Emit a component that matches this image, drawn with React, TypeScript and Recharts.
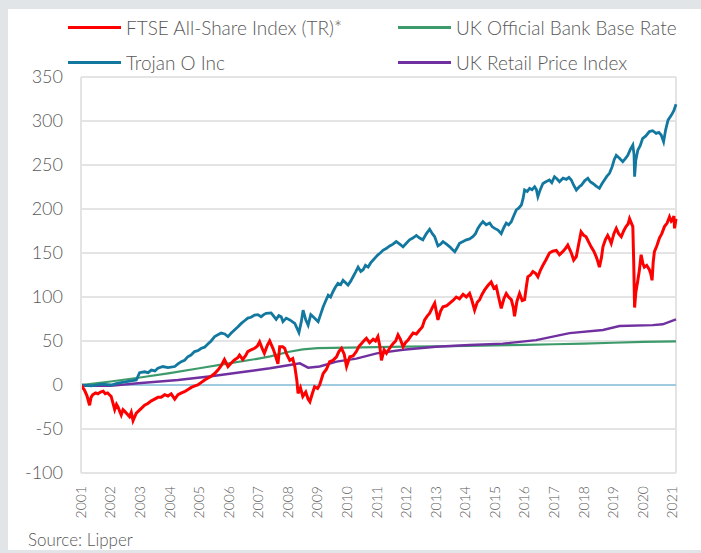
import React from 'react';
import { LineChart, Line, XAxis, YAxis, CartesianGrid, ReferenceLine } from 'recharts';

// [year, cumulative % return]
const ftse: [number, number][] = [
  [2001.0, 0], [2001.06, -3], [2001.12, -6], [2001.2, -12], [2001.29, -23], [2001.34, -14], [2001.4, -11], [2001.5, -9], [2001.57, -10], [2001.66, -8], [2001.75, -7], [2001.82, -10], [2001.9, -9],
  [2002.02, -13], [2002.14, -28], [2002.2, -22], [2002.25, -25], [2002.31, -30], [2002.36, -34], [2002.42, -28], [2002.48, -30], [2002.56, -33], [2002.64, -36], [2002.7, -31], [2002.76, -40.5],
  [2002.87, -32], [2003.04, -26.5], [2003.15, -23], [2003.26, -21], [2003.38, -18], [2003.49, -16], [2003.6, -14],
  [2003.71, -14], [2003.83, -11], [2003.94, -12.5], [2004.05, -10], [2004.17, -16], [2004.28, -11], [2004.4, -9],
  [2004.5, -7.6], [2004.62, -5], [2004.73, -2.7], [2004.85, -1], [2004.95, 0], [2005.07, 3], [2005.18, 5.7],
  [2005.3, 8], [2005.4, 10], [2005.52, 13], [2005.63, 17], [2005.74, 22], [2005.85, 29], [2005.97, 21],
  [2006.08, 25], [2006.19, 28.4], [2006.3, 31], [2006.36, 34], [2006.47, 29], [2006.56, 33], [2006.64, 38],
  [2006.75, 40], [2006.87, 41.7], [2006.96, 44], [2007.04, 49], [2007.12, 42], [2007.2, 36], [2007.3, 45],
  [2007.38, 50], [2007.49, 41.7], [2007.55, 36], [2007.66, 24], [2007.72, 43.5], [2007.82, 43.5], [2007.89, 41.7],
  [2007.94, 36], [2008.06, 28], [2008.16, 30], [2008.23, 21], [2008.3, 5], [2008.34, -9.5], [2008.42, -3],
  [2008.5, -13], [2008.6, -8], [2008.68, -16], [2008.74, -19], [2008.82, -10], [2008.9, -2], [2009.0, -4],
  [2009.07, 0], [2009.19, 13], [2009.3, 18], [2009.41, 26.5], [2009.52, 28], [2009.64, 32], [2009.72, 38],
  [2009.81, 41.7], [2009.9, 35], [2009.98, 21], [2010.09, 32], [2010.2, 33], [2010.31, 38], [2010.4, 44],
  [2010.48, 47], [2010.56, 50], [2010.65, 53], [2010.76, 48], [2010.88, 52], [2010.96, 50], [2011.04, 55],
  [2011.1, 45], [2011.16, 28], [2011.25, 40], [2011.33, 36], [2011.44, 42], [2011.55, 47], [2011.64, 50],
  [2011.72, 57], [2011.8, 52], [2011.89, 43.5], [2011.97, 48], [2012.06, 51], [2012.14, 55], [2012.23, 59],
  [2012.34, 58], [2012.45, 62.5], [2012.54, 66], [2012.62, 74], [2012.7, 78], [2012.79, 81.5], [2012.88, 88],
  [2012.96, 93], [2013.07, 74], [2013.16, 84], [2013.24, 89], [2013.36, 90], [2013.47, 93], [2013.58, 96],
  [2013.69, 100], [2013.8, 98], [2013.92, 103], [2014.03, 100], [2014.14, 104], [2014.22, 96], [2014.31, 85],
  [2014.4, 94], [2014.48, 97], [2014.56, 103], [2014.65, 108], [2014.76, 113], [2014.87, 117], [2014.96, 110],
  [2015.04, 112], [2015.12, 100], [2015.21, 87], [2015.3, 98], [2015.38, 104], [2015.46, 100], [2015.55, 97],
  [2015.62, 88], [2015.66, 78], [2015.74, 95], [2015.83, 104], [2015.92, 96], [2016.0, 97], [2016.06, 112],
  [2016.11, 123], [2016.2, 125], [2016.28, 129], [2016.37, 127], [2016.45, 123], [2016.53, 130], [2016.62, 136],
  [2016.72, 142], [2016.84, 150], [2016.95, 152], [2017.07, 153], [2017.18, 148], [2017.29, 151.5], [2017.38, 155],
  [2017.46, 159], [2017.58, 150], [2017.66, 142], [2017.75, 146], [2017.84, 162], [2017.91, 174], [2018.0, 170],
  [2018.08, 168.5], [2018.16, 163], [2018.25, 157], [2018.34, 152], [2018.42, 146], [2018.48, 140], [2018.53, 134],
  [2018.6, 145], [2018.65, 157], [2018.73, 165], [2018.81, 170], [2018.87, 166], [2018.93, 161], [2019.02, 172],
  [2019.1, 178], [2019.18, 172], [2019.27, 168.5], [2019.35, 175], [2019.43, 180], [2019.5, 183], [2019.55, 189],
  [2019.61, 184], [2019.66, 180], [2019.69, 140], [2019.72, 88], [2019.76, 105], [2019.83, 119], [2019.88, 130],
  [2019.94, 148], [2020.0, 138], [2020.05, 134], [2020.13, 136], [2020.22, 131], [2020.27, 126], [2020.31, 119],
  [2020.35, 140], [2020.39, 151.5], [2020.47, 158], [2020.56, 167], [2020.64, 172], [2020.73, 180], [2020.82, 184],
  [2020.9, 191], [2020.96, 186], [2021.0, 187.5], [2021.05, 192], [2021.07, 178], [2021.12, 189],
];

const trojan: [number, number][] = [
  [2001.0, 0], [2001.35, -1], [2001.69, 1], [2002.02, 0], [2002.25, 2], [2002.59, 4], [2002.87, 5.7],
  [2002.98, 14], [2003.15, 15], [2003.27, 14], [2003.38, 17], [2003.5, 16], [2003.6, 19], [2003.77, 21], [2003.94, 19.7], [2004.17, 21],
  [2004.28, 24], [2004.39, 26.5], [2004.5, 28], [2004.61, 32], [2004.72, 34], [2004.84, 38], [2004.95, 39], [2005.07, 41.7], [2005.18, 43], [2005.29, 46.6], [2005.4, 50], [2005.52, 55], [2005.63, 57], [2005.74, 59],
  [2005.86, 58], [2005.97, 55], [2006.08, 59], [2006.19, 62.5], [2006.3, 66], [2006.42, 70], [2006.53, 73], [2006.64, 76], [2006.75, 77], [2006.87, 79.5], [2006.98, 80], [2007.09, 77.6], [2007.18, 80], [2007.26, 81.5],
  [2007.43, 82], [2007.52, 78], [2007.6, 74.6], [2007.69, 79], [2007.77, 77.6], [2007.83, 72], [2007.94, 76], [2008.06, 74], [2008.23, 70],
  [2008.37, 59.5], [2008.45, 72], [2008.51, 85], [2008.6, 74], [2008.68, 68], [2008.77, 80], [2008.85, 77.6],
  [2009.02, 72], [2009.1, 80], [2009.19, 89], [2009.28, 96], [2009.36, 102], [2009.44, 100], [2009.52, 106], [2009.6, 111], [2009.69, 115.5], [2009.78, 114], [2009.86, 119],
  [2010.03, 113.6], [2010.12, 118], [2010.2, 123], [2010.28, 128], [2010.37, 134], [2010.46, 129], [2010.54, 131], [2010.62, 136], [2010.71, 134], [2010.8, 139], [2010.88, 142], [2010.96, 145], [2011.04, 148],
  [2011.12, 150], [2011.21, 153], [2011.32, 155], [2011.44, 158], [2011.55, 160], [2011.66, 163], [2011.78, 160], [2011.89, 157], [2012.0, 161], [2012.11, 165], [2012.22, 167], [2012.34, 170], [2012.45, 167], [2012.56, 165],
  [2012.68, 172], [2012.79, 177], [2012.88, 172], [2012.96, 168.5], [2013.07, 158], [2013.16, 160], [2013.24, 163], [2013.36, 160], [2013.47, 157], [2013.56, 154], [2013.64, 151.5], [2013.72, 156], [2013.8, 161],
  [2013.92, 163], [2014.03, 165], [2014.14, 166], [2014.25, 168.5], [2014.34, 172], [2014.42, 178], [2014.5, 182], [2014.59, 185.6], [2014.7, 182], [2014.82, 184], [2014.9, 180], [2014.99, 178], [2015.1, 176], [2015.21, 172],
  [2015.3, 179], [2015.38, 184], [2015.46, 182], [2015.55, 185.6], [2015.63, 192], [2015.72, 199], [2015.8, 201], [2015.89, 204.5], [2015.95, 212], [2016.0, 221.6], [2016.09, 220], [2016.17, 223.5],
  [2016.25, 222], [2016.34, 225.3], [2016.4, 222], [2016.45, 214], [2016.53, 222], [2016.62, 229], [2016.72, 231], [2016.84, 233], [2016.92, 230], [2017.01, 236.7], [2017.1, 234], [2017.18, 231],
  [2017.3, 235], [2017.41, 233.7], [2017.5, 236], [2017.58, 233], [2017.66, 227], [2017.75, 221.6], [2017.84, 225], [2017.92, 227], [2018.03, 232], [2018.14, 235], [2018.22, 231], [2018.31, 229],
  [2018.42, 226], [2018.53, 223.5], [2018.62, 229], [2018.7, 233], [2018.78, 237], [2018.87, 240.5], [2018.96, 248], [2019.03, 256], [2019.1, 261], [2019.2, 258], [2019.32, 253.8], [2019.4, 257], [2019.49, 261],
  [2019.58, 268], [2019.66, 272.7], [2019.7, 262], [2019.72, 236.7], [2019.76, 255], [2019.83, 267], [2019.91, 272], [2019.99, 280], [2020.1, 283], [2020.22, 288], [2020.33, 289], [2020.45, 286],
  [2020.54, 287], [2020.62, 284], [2020.7, 276.5], [2020.77, 290], [2020.85, 301], [2020.97, 307], [2021.05, 312], [2021.12, 319],
];

const bankRate: [number, number][] = [
  [2001.0, 0], [2002.0, 4], [2003.0, 8.5], [2004.0, 13.5], [2005.0, 19], [2006.0, 24.5], [2007.0, 30],
  [2007.4, 32.5], [2008.0, 37.5], [2008.5, 40.5], [2009.0, 42], [2010.0, 42.5], [2011.0, 43], [2012.0, 43.5],
  [2013.0, 44], [2014.0, 44.5], [2015.0, 45], [2016.0, 45.7], [2017.0, 46.3], [2018.0, 47], [2019.0, 48],
  [2020.0, 49], [2021.12, 49.5],
];

const rpi: [number, number][] = [
  [2001.0, -1], [2002.0, -1], [2002.93, 2], [2004.28, 5.7], [2005.4, 10], [2006.53, 15], [2007.39, 19],
  [2008.06, 22.7], [2008.4, 24.6], [2008.68, 19.7], [2009.07, 21], [2009.64, 26.5], [2010.31, 30], [2011.0, 36],
  [2011.89, 40], [2013.0, 43.5], [2014.14, 45.5], [2015.27, 47], [2016.39, 51], [2017.52, 59], [2018.65, 62.5],
  [2019.21, 67], [2020.33, 68], [2020.67, 69], [2021.12, 74.6],
];

const yearTicks = [2001, 2002, 2003, 2004, 2005, 2006, 2007, 2008, 2009, 2010, 2011, 2012, 2013, 2014, 2015, 2016, 2017, 2018, 2019, 2020, 2021];
const valueTicks = [-100, -50, 0, 50, 100, 150, 200, 250, 300, 350];

const toRows = (pts: [number, number][]) => pts.map(([t, v]) => ({ t, v }));

const series = [
  { id: 'bank', name: 'UK Official Bank Base Rate', color: '#3d9b6b', width: 2.2, data: toRows(bankRate) },
  { id: 'rpi', name: 'UK Retail Price Index', color: '#7030a0', width: 2.4, data: toRows(rpi) },
  { id: 'trojan', name: 'Trojan O Inc', color: '#13789f', width: 2.8, data: toRows(trojan) },
  { id: 'ftse', name: 'FTSE All-Share Index (TR)*', color: '#ff0000', width: 3, data: toRows(ftse) },
];

// legend reads row by row
const legendOrder = ['ftse', 'bank', 'trojan', 'rpi'];

const FONT = 'Lato, "Open Sans", sans-serif';
const TEXT = '#595959';
const GRID = '#e4e4e4';

const YearTick = (props: any) => {
  const { x, y, payload } = props;
  return (
    <text x={x} y={y + 5} dy="0.35em" textAnchor="end" transform={`rotate(-90, ${x}, ${y + 5})`}
      fill={TEXT} fontSize={14} fontWeight={300} fontFamily={FONT}>
      {payload.value}
    </text>
  );
};

export default function App() {
  return (
    <div style={{ position: 'absolute', left: 0, top: 0, width: 701, height: 553, background: '#e1e5e8', fontFamily: FONT }}>
      <div style={{ position: 'absolute', left: 8, top: 9, right: 0, bottom: 3, background: '#fff' }} />

      <div style={{ position: 'absolute', left: 68, top: 14, width: 640, display: 'grid', gridTemplateColumns: '330px 310px', rowGap: 9 }}>
        {legendOrder.map(id => {
          const s = series.find(d => d.id === id)!;
          return (
            <div key={id} style={{ display: 'flex', alignItems: 'center', height: 26, color: TEXT, fontSize: 19, fontWeight: 300 }}>
              <span style={{ display: 'inline-block', width: 53, height: 3, background: s.color, marginRight: 5 }} />
              {s.name}
            </div>
          );
        })}
      </div>

      <div style={{ position: 'absolute', left: 0, top: 0 }}>
        <LineChart width={701} height={553} margin={{ top: 77, right: 25, bottom: 30, left: 0 }}>
          <CartesianGrid vertical={false} stroke={GRID} strokeWidth={2} />
          <XAxis dataKey="t" type="number" domain={[2001, 2021.12]} ticks={yearTicks} allowDuplicatedCategory={false}
            axisLine={false} tickLine={false} height={50} interval={0} tick={<YearTick />} />
          <YAxis type="number" domain={[-100, 350]} ticks={valueTicks} width={81} axisLine={{ stroke: GRID, strokeWidth: 2 }}
            tickLine={false} tickSize={0} tickMargin={18} interval={0}
            tick={{ fill: TEXT, fontSize: 18, fontWeight: 300, fontFamily: FONT }} />
          <ReferenceLine x={2021.12} stroke={GRID} strokeWidth={2} />
          <ReferenceLine y={0} stroke="#9fcbe0" strokeWidth={2} />
          {series.map(s => (
            <Line key={s.id} data={s.data} dataKey="v" name={s.name} type="linear" stroke={s.color}
              strokeWidth={s.width} dot={false} activeDot={false} isAnimationActive={false} />
          ))}
        </LineChart>
      </div>

      <div style={{ position: 'absolute', left: 28, top: 529, fontSize: 17, fontWeight: 300, color: TEXT }}>Source: Lipper</div>
    </div>
  );
}
